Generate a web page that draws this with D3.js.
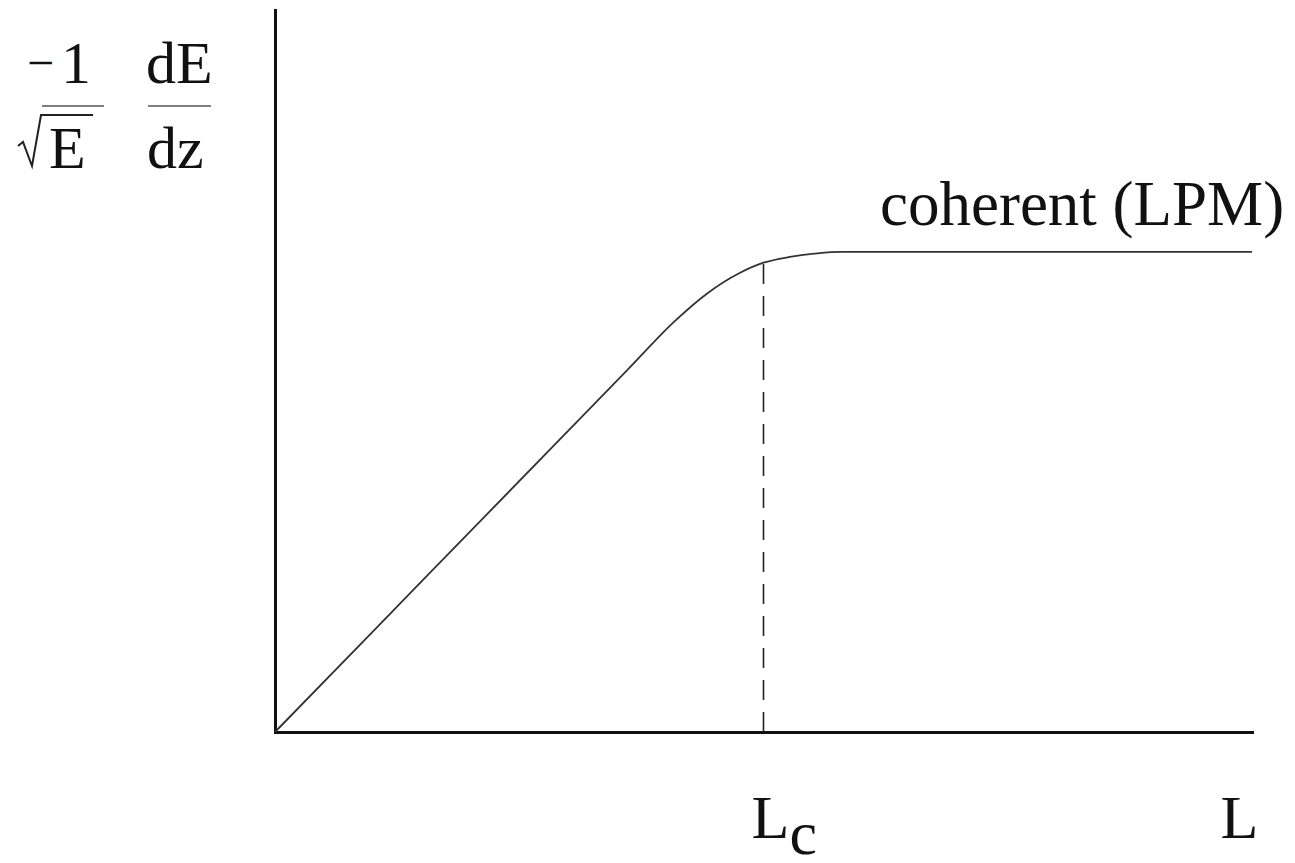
<!DOCTYPE html>
<html>
<head>
<meta charset="utf-8">
<script src="https://cdn.jsdelivr.net/npm/d3@7"></script>
<style>
  html, body { margin: 0; padding: 0; background: #fff; }
  svg { display: block; }
  text { font-family: "Liberation Serif", "Times New Roman", serif; fill: #111; }
</style>
</head>
<body>
<svg id="chart" width="1295" height="863"></svg>
<script>
// Energy-loss rate vs. path length: linear growth, then the coherent (LPM) plateau
const pathLength = [0, 1.5, 3.0, 3.6, 4.1, 4.42, 4.76, 5.0, 5.27, 5.55, 5.8, 10];
const lossRate   = [0, 2.085, 4.17, 5.004, 5.7, 6.07, 6.36, 6.5, 6.58, 6.63, 6.65, 6.65];
const criticalLength = 5.0;
const criticalRate = 6.5;
const xTickValues = [5.0, 9.8];
const xTickLabels = ["L", "L"];
const xTickSubs   = ["c", ""];
const curveLabel  = "coherent (LPM)";

const svg = d3.select("#chart");

const x = d3.scaleLinear().domain([0, 10]).range([275, 1252]);
const y = d3.scaleLinear().domain([0, 10]).range([732, 10]);

// axes: plain heavy lines without ticks
svg.append("g")
  .attr("transform", `translate(0,${y(0)})`)
  .call(d3.axisBottom(x).tickValues([]).tickSizeOuter(0));
svg.append("g")
  .attr("transform", `translate(${x(0)},0)`)
  .call(d3.axisLeft(y).tickValues([]).tickSizeOuter(0));
svg.selectAll(".domain")
  .attr("stroke", "#111")
  .attr("stroke-width", 3)
  .attr("stroke-linecap", "square");

// dashed marker at the critical length
svg.append("line")
  .attr("x1", x(criticalLength)).attr("x2", x(criticalLength))
  .attr("y1", y(0)).attr("y2", y(criticalRate))
  .attr("stroke", "#222")
  .attr("stroke-width", 1.6)
  .attr("stroke-dasharray", "20,12");

// the curve
const pts = pathLength.map((d, i) => [d, lossRate[i]]);
const line = d3.line()
  .x(d => x(d[0]))
  .y(d => y(d[1]))
  .curve(d3.curveMonotoneX);
svg.append("path")
  .datum(pts)
  .attr("d", line)
  .attr("fill", "none")
  .attr("stroke", "#333")
  .attr("stroke-width", 1.8);

// curve label
svg.append("text")
  .attr("x", 880).attr("y", 225)
  .attr("font-size", 63)
  .text(curveLabel);

// x tick labels
xTickValues.forEach((v, i) => {
  const t = svg.append("text")
    .attr("x", x(v) - 12).attr("y", 838)
    .attr("font-size", 62);
  t.append("tspan").text(xTickLabels[i]);
  if (xTickSubs[i]) {
    t.append("tspan").attr("dy", 16).text(xTickSubs[i]);
  }
});

// y axis label: (-1 / sqrt(E)) (dE / dz)
const yl = svg.append("g");
yl.append("text").attr("x", 27).attr("y", 79).attr("font-size", 48).text("\u2212");
yl.append("text").attr("x", 61).attr("y", 83).attr("font-size", 60).text("1");
yl.append("line").attr("x1", 42).attr("x2", 104).attr("y1", 106).attr("y2", 106)
  .attr("stroke", "#555").attr("stroke-width", 1.6);
// radical sign with its overbar
yl.append("path")
  .attr("d", "M18,146 L23,142 L32,166 L41,115 L93,115")
  .attr("fill", "none")
  .attr("stroke", "#222")
  .attr("stroke-width", 2)
  .attr("stroke-linejoin", "miter");
yl.append("text").attr("x", 49).attr("y", 168).attr("font-size", 60).text("E");

yl.append("text").attr("x", 146).attr("y", 83).attr("font-size", 60).text("dE");
yl.append("line").attr("x1", 148).attr("x2", 211).attr("y1", 106).attr("y2", 106)
  .attr("stroke", "#555").attr("stroke-width", 1.6);
yl.append("text").attr("x", 147).attr("y", 168).attr("font-size", 60).text("dz");
</script>
</body>
</html>
